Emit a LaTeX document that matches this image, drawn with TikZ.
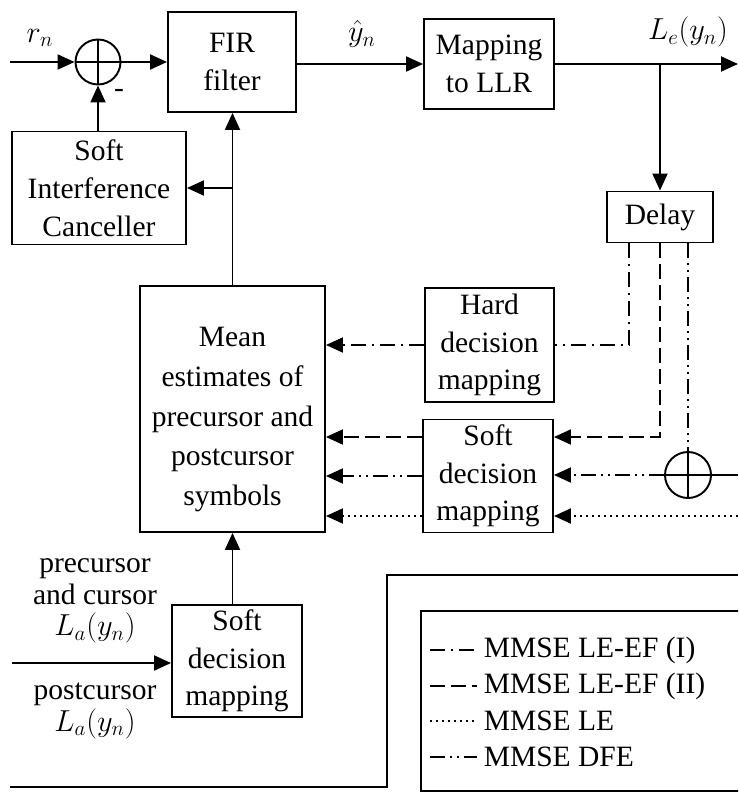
\documentclass[tikz,border=0pt]{standalone}
\usepackage{fontspec}
\setmainfont{Liberation Serif}
\usetikzlibrary{arrows.meta, positioning}

\begin{document}
\begin{tikzpicture}[x=0.02cm, y=-0.02cm, line width=1.1pt,
		>={Triangle[length=0.34cm, width=0.3cm]},
		block/.style={draw, align=center, inner sep=0pt, font=\fontsize{16.8}{21.5}\selectfont},
		summer/.style={draw, circle, minimum size=0.9cm, inner sep=0pt,
			path picture={\draw (path picture bounding box.north) -- (path picture bounding box.south)
				(path picture bounding box.west) -- (path picture bounding box.east);}},
		lbl/.style={align=center, font=\fontsize{16.8}{18}\selectfont},
		efone/.style={dash pattern=on 0.3cm off 0.12cm on 0.04cm off 0.12cm},
		eftwo/.style={dash pattern=on 0.3cm off 0.12cm},
		mmsele/.style={dash pattern=on 0.04cm off 0.08cm},
		dfe/.style={dash pattern=on 0.3cm off 0.1cm on 0.04cm off 0.1cm on 0.04cm off 0.1cm}]
	\useasboundingbox (0, 0) rectangle (738, 794);
	\clip (0, 0) rectangle (738, 794);

	\node[summer] (add1) at (98, 62) {};
	\node[block, minimum width=2.56cm, minimum height=2cm] (fir) at (232, 62) {FIR\\filter};
	\node[block, minimum width=3.48cm, minimum height=2.26cm] (canc) at (99, 188) {Soft\\Interference\\Canceller};
	\node[block, minimum width=2.6cm, minimum height=1.8cm] (llr) at (489, 64) {Mapping\\to LLR};
	\node[block, minimum width=2.12cm, minimum height=1.02cm] (delay) at (660, 217) {Delay};
	\node[block, minimum width=2.58cm, minimum height=2.28cm] (hard) at (489.5, 345) {Hard\\decision\\mapping};
	\node[block, minimum width=2.6cm, minimum height=2.26cm] (softr) at (488, 476) {Soft\\decision\\mapping};
	\node[summer, minimum size=0.92cm] (add2) at (688, 475) {};
	\node[block, minimum width=3.7cm, minimum height=4.92cm, font=\fontsize{16.8}{22.5}\selectfont] (mean) at (232.5, 409) {\rule{0pt}{23pt}Mean\\estimates of\\precursor and\\postcursor\\symbols};
	\node[block, minimum width=2.6cm, minimum height=2.24cm] (softl) at (237, 661) {Soft\\decision\\mapping};

	\coordinate (rin) at (10, 62);
	\coordinate (out) at (738, 64);
	\coordinate (dfein) at (738, 475);
	\coordinate (lein) at (738, 516);
	\coordinate (lain) at (12, 663);
	\coordinate (pin) at (10, 787);
	\coordinate (pup) at (387, 575);

	\node[lbl] (rlbl) at (40, 38) {$r_n$};
	\node[lbl] (minus) at (119, 93) {-};
	\node[lbl] (ylbl) at (362, 34) {$\hat{y}_n$};
	\node[lbl] (lelbl) at (688, 32) {$L_e(y_n)$};
	\node[lbl] (prelbl) at (95, 601) {precursor\\and cursor\\$L_a(y_n)$};
	\node[lbl] (postlbl) at (95, 711) {postcursor\\$L_a(y_n)$};

	\draw[->] (rin) -- (add1);
	\draw[->] (add1.east) -- (add1.east -| fir.west);
	\draw[->] (canc.north -| add1) -- (add1.south);
	\draw[->] (mean.north) -- (mean.north |- fir.south);
	\draw[->] (canc.east -| mean.north) -- (canc.east);
	\draw[->] (fir.east |- llr.west) -- (llr.west);
	\draw[->] (llr.east) -- (out);
	\draw[->] (delay.north |- llr.east) -- (delay.north);

	\draw[efone] ([xshift=-0.62cm]delay.south) |- (hard.east);
	\draw[efone, ->] (hard.west) -- (hard.west -| mean.east);
	\draw[eftwo, ->] (delay.south) |- ([yshift=0.78cm]softr.east);
	\draw[eftwo, ->] ([yshift=0.78cm]softr.west) -- ([yshift=0.78cm]softr.west -| mean.east);
	\draw[dfe] (add2.north |- delay.south) -- (add2.north);
	\draw (dfein) -- (add2.east);
	\draw[dfe, ->] (add2.west) -- (add2.west -| softr.east);
	\draw[dfe, ->] (softr.west) -- (softr.west -| mean.east);
	\draw[mmsele, ->] (lein) -- (lein -| softr.east);
	\draw[mmsele, ->] (lein -| softr.west) -- (lein -| mean.east);

	\draw[->] (mean.south |- softl.north) -- (mean.south);
	\draw[->] (lain) -- (lain -| softl.west);
	\draw (pin) -| (pup) -- (pup -| out);

	\node[draw, anchor=north west, minimum width=6.8cm, minimum height=3.6cm] (legend) at (420, 610) {};
	\begin{scope}[every node/.style={lbl, anchor=west}]
		\coordinate (k1) at (430, 650);
		\coordinate (k2) at (430, 686);
		\coordinate (k3) at (430, 721);
		\coordinate (k4) at (430, 757);
		\draw[efone] (k1) -- ++(47, 0) node (t1) {MMSE LE-EF (I)};
		\draw[eftwo] (k2) -- ++(47, 0) node (t2) {MMSE LE-EF (II)};
		\draw[mmsele] (k3) -- ++(47, 0) node (t3) {MMSE LE};
		\draw[dfe] (k4) -- ++(47, 0) node (t4) {MMSE DFE};
	\end{scope}
\end{tikzpicture}
\end{document}
